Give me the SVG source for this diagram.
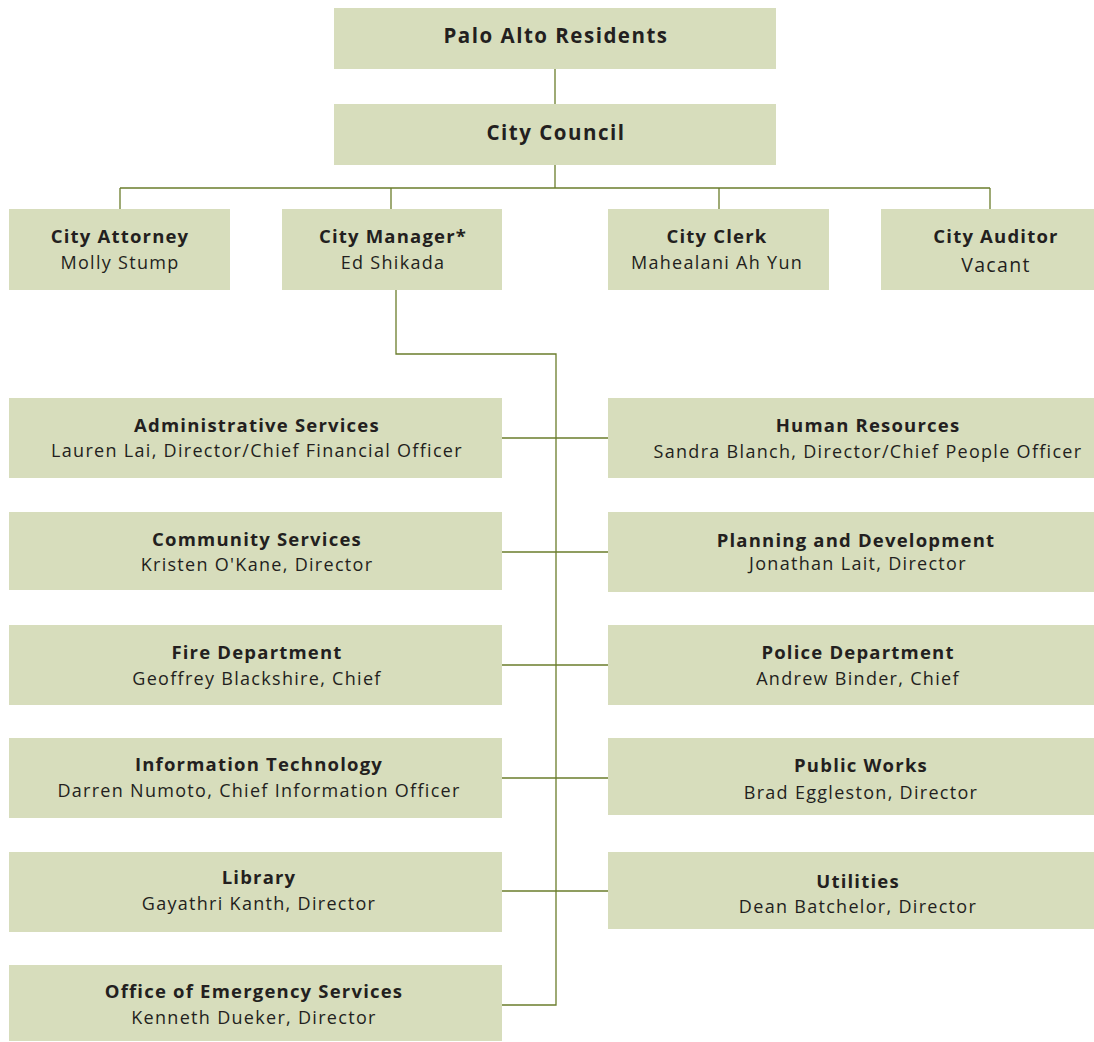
<svg xmlns="http://www.w3.org/2000/svg" width="1094" height="1042" viewBox="0 0 1094 1042">
<style>
.box{fill:#d7ddbc}
.t{font-family:"Open Sans","Liberation Sans",sans-serif;font-weight:700;font-size:18.5px;letter-spacing:1.2px;fill:#231f20;text-anchor:middle}
.top{font-size:20.5px;letter-spacing:1.5px}
.n{font-family:"Open Sans","Liberation Sans",sans-serif;font-weight:400;font-size:18px;letter-spacing:1.3px;fill:#231f20;text-anchor:middle}
.c{fill:none;stroke:#6b7d2c;stroke-width:1.3}
</style>
<rect width="1094" height="1042" fill="#ffffff"/>
<g id="connectors">
<path class="c" d="M555 69V104M555 165V188M120 188H990M120 188V209M391 188V209M719 188V209M990 188V209"/>
<path class="c" d="M396 290V354H556V1005H502"/>
<path class="c" d="M502 438H608M502 552H608M502 665H608M502 778H608M502 891H608"/>
</g>
<g id="residents"><rect class="box" x="334" y="8" width="442" height="61"/><text class="t top" x="556" y="43">Palo Alto Residents</text></g>
<g id="council"><rect class="box" x="334" y="104" width="442" height="61"/><text class="t top" x="556" y="140">City Council</text></g>
<g id="attorney"><rect class="box" x="9" y="209" width="221" height="81"/><text class="t" x="120" y="243">City Attorney</text><text class="n" x="120" y="269">Molly Stump</text></g>
<g id="manager"><rect class="box" x="282" y="209" width="220" height="81"/><text class="t" x="393" y="243">City Manager*</text><text class="n" x="393" y="269">Ed Shikada</text></g>
<g id="clerk"><rect class="box" x="608" y="209" width="221" height="81"/><text class="t" x="717" y="243">City Clerk</text><text class="n" x="717" y="269">Mahealani Ah Yun</text></g>
<g id="auditor"><rect class="box" x="881" y="209" width="213" height="81"/><text class="t" x="996" y="243">City Auditor</text><text class="n" x="996" y="272" style="font-size:19.5px">Vacant</text></g>
<g id="admin"><rect class="box" x="9" y="398" width="493" height="80"/><text class="t" x="257" y="432">Administrative Services</text><text class="n" x="257" y="457">Lauren Lai, Director/Chief Financial Officer</text></g>
<g id="community"><rect class="box" x="9" y="512" width="493" height="78"/><text class="t" x="257" y="546">Community Services</text><text class="n" x="257" y="571">Kristen O'Kane, Director</text></g>
<g id="fire"><rect class="box" x="9" y="625" width="493" height="80"/><text class="t" x="257" y="659">Fire Department</text><text class="n" x="257" y="685">Geoffrey Blackshire, Chief</text></g>
<g id="it"><rect class="box" x="9" y="738" width="493" height="80"/><text class="t" x="259" y="771">Information Technology</text><text class="n" x="259" y="797">Darren Numoto, Chief Information Officer</text></g>
<g id="library"><rect class="box" x="9" y="852" width="493" height="80"/><text class="t" x="259" y="884">Library</text><text class="n" x="259" y="910">Gayathri Kanth, Director</text></g>
<g id="oes"><rect class="box" x="9" y="965" width="493" height="76"/><text class="t" x="254" y="998">Office of Emergency Services</text><text class="n" x="254" y="1024">Kenneth Dueker, Director</text></g>
<g id="hr"><rect class="box" x="608" y="398" width="486" height="80"/><text class="t" x="868" y="432">Human Resources</text><text class="n" x="868" y="458">Sandra Blanch, Director/Chief People Officer</text></g>
<g id="planning"><rect class="box" x="608" y="512" width="486" height="80"/><text class="t" x="856" y="547">Planning and Development</text><text class="n" x="858" y="570">Jonathan Lait, Director</text></g>
<g id="police"><rect class="box" x="608" y="625" width="486" height="80"/><text class="t" x="858" y="659">Police Department</text><text class="n" x="858" y="685">Andrew Binder, Chief</text></g>
<g id="publicworks"><rect class="box" x="608" y="738" width="486" height="77"/><text class="t" x="861" y="772">Public Works</text><text class="n" x="861" y="799">Brad Eggleston, Director</text></g>
<g id="utilities"><rect class="box" x="608" y="852" width="486" height="77"/><text class="t" x="858" y="888">Utilities</text><text class="n" x="858" y="913">Dean Batchelor, Director</text></g>
</svg>
